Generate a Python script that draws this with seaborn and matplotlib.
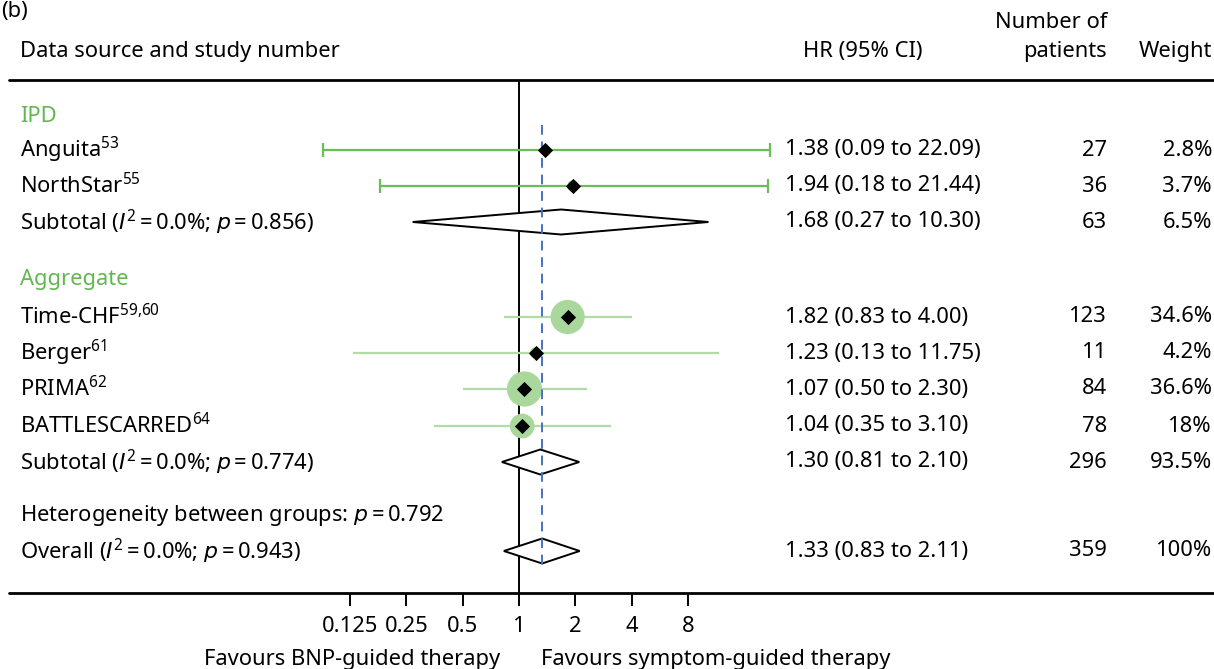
import numpy as np
import pandas as pd
import matplotlib
matplotlib.use("Agg")
import matplotlib.pyplot as plt
import matplotlib.transforms as mtransforms
import seaborn as sns

sns.set_theme(style="white")
FONT = "Noto Sans"
plt.rcParams["font.family"] = [FONT, "DejaVu Sans"]
plt.rcParams["text.color"] = "black"
plt.rcParams["mathtext.fontset"] = "custom"
plt.rcParams["mathtext.rm"] = FONT
plt.rcParams["mathtext.it"] = "DejaVu Sans:style=oblique"
plt.rcParams["mathtext.bf"] = FONT + ":weight=bold"
plt.rcParams["mathtext.fallback"] = None

# ---- study data ----
study_labels = ["Anguita$^{53}$", "NorthStar$^{55}$",
                "Time-CHF$^{59{,}60}$", "Berger$^{61}$", "PRIMA$^{62}$",
                "BATTLESCARRED$^{64}$"]
study_group = ["IPD", "IPD", "Aggregate", "Aggregate", "Aggregate", "Aggregate"]
study_hr = [1.38, 1.94, 1.82, 1.23, 1.07, 1.04]
study_lo = [0.09, 0.18, 0.83, 0.13, 0.50, 0.35]
study_hi = [22.09, 21.44, 4.00, 11.75, 2.30, 3.10]
study_n = [27, 36, 123, 11, 84, 78]
study_weight = [2.8, 3.7, 34.6, 4.2, 36.6, 18.0]
study_weight_txt = ["2.8%", "3.7%", "34.6%", "4.2%", "36.6%", "18%"]

# pooled estimates: IPD subtotal, aggregate subtotal, overall
pooled_labels = [r"Subtotal ($I^2\,$=$\,$0.0%; $p\,$=$\,$0.856)",
                 r"Subtotal ($I^2\,$=$\,$0.0%; $p\,$=$\,$0.774)",
                 r"Overall ($I^2\,$=$\,$0.0%; $p\,$=$\,$0.943)"]
pooled_hr = [1.68, 1.30, 1.33]
pooled_lo = [0.27, 0.81, 0.83]
pooled_hi = [10.30, 2.10, 2.11]
pooled_n = [63, 296, 359]
pooled_weight_txt = ["6.5%", "93.5%", "100%"]

group_names = ["IPD", "Aggregate"]
het_label = r"Heterogeneity between groups: $p\,$=$\,$0.792"
tick_values = [0.125, 0.25, 0.5, 1, 2, 4, 8]
tick_labels = ["0.125", "0.25", "0.5", "1", "2", "4", "8"]

# ---- layout (vertical row positions, top-down) ----
W, H = 1214, 669
group_y = [116, 280]
study_y = [150, 186, 317, 353, 389, 426]
pooled_y = [222, 462, 551]
het_y = 515
rule_top, rule_bot = 80, 593
x_one_px, px_per_doubling = 519, 56.3

DARK_GREEN = "#6cbd5a"
LIGHT_GREEN = "#b3dba6"
BUBBLE_GREEN = "#a9d79c"
HEAD_GREEN = "#62b84f"
BLUE = "#4472c4"
FS = 15.8

fig = plt.figure(figsize=(W / 100, H / 100), dpi=100)
ax = fig.add_axes([0, 0, 1, 1])
ax.set_xscale("log", base=2)
ax.set_xlim(2 ** (-x_one_px / px_per_doubling), 2 ** ((W - x_one_px) / px_per_doubling))
ax.set_ylim(H, 0)
ax.axis("off")

colx = mtransforms.blended_transform_factory(ax.transAxes, ax.transData)
def px(x):
    return x / W

df = pd.DataFrame({"label": study_labels, "group": study_group, "hr": study_hr,
                   "lo": study_lo, "hi": study_hi, "n": study_n,
                   "weight": study_weight, "wtxt": study_weight_txt, "y": study_y})

# rules and reference line
ax.axhline(rule_top, xmin=px(9), xmax=1, color="black", lw=2)
ax.axhline(rule_bot, xmin=px(9), xmax=1, color="black", lw=2)
ax.vlines(1, rule_top, rule_bot, color="black", lw=1.4)
ax.vlines(pooled_hr[2], 125, 570, color=BLUE, lw=1.4, linestyles=(0, (5, 3.5)), zorder=5)

# confidence intervals
for _, r in df.iterrows():
    if r.group == "IPD":
        ax.hlines(r.y, r.lo, r.hi, color=DARK_GREEN, lw=1.6, zorder=2)
        ax.vlines([r.lo, r.hi], r.y - 7, r.y + 7, color=DARK_GREEN, lw=1.6, zorder=2)
    else:
        ax.hlines(r.y, r.lo, r.hi, color=LIGHT_GREEN, lw=1.6, zorder=2)

# weight bubbles (area proportional to study weight)
k = 17.5
sns.scatterplot(data=df, x="hr", y="y", hue="group", size="weight",
                sizes=(k * min(study_weight), k * max(study_weight)),
                size_norm=(min(study_weight), max(study_weight)),
                palette={"IPD": DARK_GREEN, "Aggregate": BUBBLE_GREEN},
                linewidth=0, legend=False, ax=ax, zorder=3)
# point estimates
sns.scatterplot(data=df, x="hr", y="y", marker="D", s=60, color="black",
                linewidth=0, legend=False, ax=ax, zorder=6)

# pooled diamonds
for hr, lo, hi, y in zip(pooled_hr, pooled_lo, pooled_hi, pooled_y):
    ax.fill([lo, hr, hi, hr, lo], [y, y - 12.5, y, y + 12.5, y],
            facecolor="white", edgecolor="black", lw=1.4, zorder=4)

# x axis ticks
ax.vlines(tick_values, rule_bot, rule_bot + 13, color="black", lw=1.4)
for v, t in zip(tick_values, tick_labels):
    ax.text(v, 626, t, ha="center", va="center", fontsize=FS)
ax.text(px(500), 659, "Favours BNP-guided therapy", transform=colx,
        ha="right", va="center", fontsize=FS)
ax.text(px(541), 659, "Favours symptom-guided therapy", transform=colx,
        ha="left", va="center", fontsize=FS)

# header
ax.text(px(1), 1, "(b)", transform=colx, ha="left", va="top", fontsize=FS)
ax.text(px(20), 52, "Data source and study number", transform=colx,
        ha="left", va="center", fontsize=FS)
ax.text(px(863), 52, "HR (95% CI)", transform=colx, ha="center", va="center", fontsize=FS)
ax.text(px(1107), 23, "Number of", transform=colx, ha="right", va="center", fontsize=FS)
ax.text(px(1107), 52, "patients", transform=colx, ha="right", va="center", fontsize=FS)
ax.text(px(1212), 52, "Weight", transform=colx, ha="right", va="center", fontsize=FS)

# group headings
for name, y in zip(group_names, group_y):
    ax.text(px(20), y, name, transform=colx, ha="left", va="center",
            fontsize=FS, color=HEAD_GREEN)

def hr_text(hr, lo, hi):
    return f"{hr:.2f} ({lo:.2f} to {hi:.2f})"

# study rows
for _, r in df.iterrows():
    ax.text(px(20), r.y, r.label, transform=colx, ha="left", va="center", fontsize=FS)
    ax.text(px(785), r.y, hr_text(r.hr, r.lo, r.hi), transform=colx,
            ha="left", va="center", fontsize=FS)
    ax.text(px(1107), r.y, str(r.n), transform=colx, ha="right", va="center", fontsize=FS)
    ax.text(px(1212), r.y, r.wtxt, transform=colx, ha="right", va="center", fontsize=FS)

# pooled rows
for lab, hr, lo, hi, n, wt, y in zip(pooled_labels, pooled_hr, pooled_lo, pooled_hi,
                                     pooled_n, pooled_weight_txt, pooled_y):
    ax.text(px(20), y, lab, transform=colx, ha="left", va="center", fontsize=FS)
    ax.text(px(785), y, hr_text(hr, lo, hi), transform=colx,
            ha="left", va="center", fontsize=FS)
    ax.text(px(1107), y, str(n), transform=colx, ha="right", va="center", fontsize=FS)
    ax.text(px(1212), y, wt, transform=colx, ha="right", va="center", fontsize=FS)

ax.text(px(20), het_y, het_label, transform=colx, ha="left", va="center", fontsize=FS)

fig.savefig("out.png", dpi=100)
